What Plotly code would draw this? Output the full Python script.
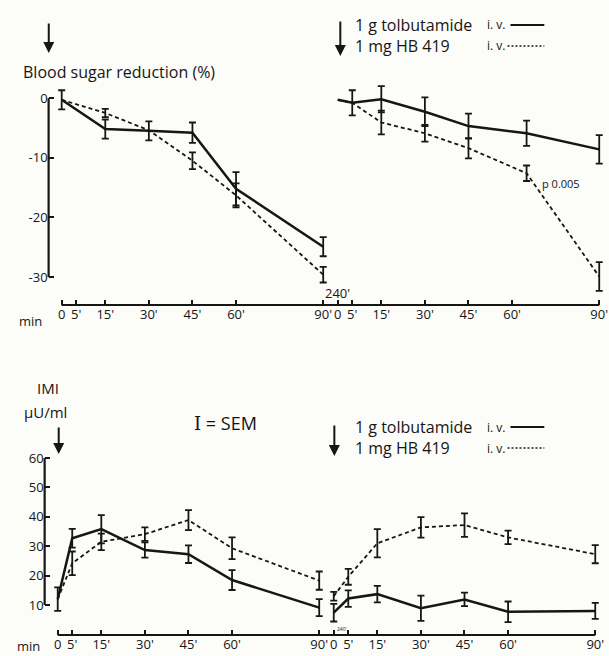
import plotly.graph_objects as go

# ---------------- data ----------------
GAP = 95  # second (240') experiment is drawn after the first, shifted by 95 min
tick_vals_left = [0, 5, 15, 30, 45, 60, 90]
tick_text = ["0", "5'", "15'", "30'", "45'", "60'", "90'", "0", "5'", "15'", "30'", "45'", "60'", "90'"]

# Blood sugar reduction (%)
bs_t_left = [0, 15, 30, 45, 60, 90]
bs_tol_left = [-0.3, -5.2, -5.5, -5.8, -15.2, -24.9]
bs_tol_left_err = [1.6, 1.6, 1.6, 1.7, 2.8, 1.6]
bs_hb_left = [-0.3, -2.5, -5.4, -10.5, -16.3, -29.6]
bs_hb_left_err = [0, 0.7, 0, 1.4, 2.0, 1.3]

bs_t_right = [0, 5, 15, 30, 45, 65, 90]
bs_tol_right = [-0.3, -0.8, -0.2, -2.3, -4.7, -5.9, -8.6]
bs_tol_right_err = [0, 2.1, 2.2, 2.4, 2.1, 2.1, 2.4]
bs_hb_right = [-0.3, -0.8, -4.1, -5.9, -8.4, -12.6, -29.9]
bs_hb_right_err = [0, 0, 2.0, 1.4, 1.7, 1.3, 2.4]

bs_yticks = [0, -10, -20, -30]

# IMI (µU/ml)
imi_t_left = [0, 5, 15, 30, 45, 60, 90]
imi_tol_left = [12, 32.7, 35.8, 28.7, 27.3, 18.5, 9.1]
imi_tol_left_err = [4, 3.2, 4.8, 2.6, 3.0, 3.4, 2.9]
imi_hb_left = [12, 24.2, 31.5, 34.1, 38.9, 29.3, 18.3]
imi_hb_left_err = [0, 4.0, 2.8, 2.3, 3.4, 3.7, 3.1]

imi_t_right = [0, 5, 15, 30, 45, 60, 90]
imi_tol_right = [7.4, 12.2, 13.7, 8.9, 11.9, 7.7, 8.0]
imi_tol_right_err = [3.0, 2.8, 2.8, 4.3, 2.3, 3.5, 2.7]
imi_hb_right = [13.0, 19.6, 31.0, 36.4, 37.2, 33.0, 27.3]
imi_hb_right_err = [1.5, 2.7, 4.8, 3.5, 4.0, 2.3, 3.1]

imi_yticks = [10, 20, 30, 40, 50, 60]

# ---------------- styling ----------------
INK = "#161616"
BG = "#fcfcf8"
FONT = "Open Sans"
W, H = 609, 656

fig = go.Figure()


def series(t, v, err, offset, dashed, xa, ya):
    xs = [ti + offset for ti in t]
    fig.add_trace(go.Scatter(
        x=xs, y=v, mode="lines", xaxis=xa, yaxis=ya, showlegend=False,
        line=dict(color=INK, width=1.8 if dashed else 2.5,
                  dash="4px,3px" if dashed else "solid"),
        hoverinfo="skip"))
    ex = [x for x, e in zip(xs, err) if e > 0]
    ey = [y for y, e in zip(v, err) if e > 0]
    ee = [e for e in err if e > 0]
    fig.add_trace(go.Scatter(
        x=ex, y=ey, mode="markers", xaxis=xa, yaxis=ya, showlegend=False,
        marker=dict(size=1, color="rgba(0,0,0,0)"),
        error_y=dict(type="data", array=ee, visible=True, color=INK,
                     thickness=1.8, width=3.5),
        hoverinfo="skip"))


series(bs_t_left, bs_tol_left, bs_tol_left_err, 0, False, "x", "y")
series(bs_t_left, bs_hb_left, bs_hb_left_err, 0, True, "x", "y")
series(bs_t_right, bs_tol_right, bs_tol_right_err, GAP, False, "x", "y")
series(bs_t_right, bs_hb_right, bs_hb_right_err, GAP, True, "x", "y")

series(imi_t_left, imi_tol_left, imi_tol_left_err, 0, False, "x2", "y2")
series(imi_t_left, imi_hb_left, imi_hb_left_err, 0, True, "x2", "y2")
series(imi_t_right, imi_tol_right, imi_tol_right_err, GAP, False, "x2", "y2")
series(imi_t_right, imi_hb_right, imi_hb_right_err, GAP, True, "x2", "y2")

# ---------------- axes ----------------
K = 2.92  # px per minute
XR = [-4.5, 187]
all_ticks = tick_vals_left + [t + GAP for t in tick_vals_left]


def px_dom(x0px):
    return [(x0px + XR[0] * K) / W, (x0px + XR[1] * K) / W]


def ydom(top_px, bot_px):
    return [1 - bot_px / H, 1 - top_px / H]


xcommon = dict(range=XR, tickmode="array", tickvals=all_ticks, ticktext=tick_text,
               tickangle=0, ticks="inside", ticklen=5, tickwidth=1.6, tickcolor=INK,
               showline=False, showgrid=False, zeroline=False,
               tickfont=dict(family=FONT, size=13, color=INK))
ycommon = dict(tickmode="array", ticks="inside", ticklen=5, tickwidth=1.8,
               tickcolor=INK, showline=False, showgrid=False, zeroline=False,
               tickfont=dict(family=FONT, size=13, color=INK))

fig.update_layout(
    xaxis=dict(domain=px_dom(62), anchor="y", **xcommon),
    yaxis=dict(domain=ydom(65.2, 305), range=[-34.67, 5.5], anchor="x",
               tickvals=bs_yticks, ticktext=[str(v) for v in bs_yticks], **ycommon),
    xaxis2=dict(domain=px_dom(58), anchor="y2", **xcommon),
    yaxis2=dict(domain=ydom(440.4, 635), range=[-0.2, 66], anchor="x2",
                tickvals=imi_yticks, ticktext=[str(v) for v in imi_yticks], **ycommon),
)

shapes = []
# axis lines
for xa, ya, ylo, yhi in [("x", "y", bs_yticks[-1], bs_yticks[0]),
                         ("x2", "y2", imi_yticks[0], imi_yticks[-1])]:
    shapes.append(dict(type="line", xref=xa, yref=ya + " domain",
                       x0=0, x1=GAP + tick_vals_left[-1], y0=0, y1=0,
                       line=dict(color=INK, width=2)))
    shapes.append(dict(type="line", xref=xa + " domain", yref=ya,
                       x0=0, x1=0, y0=ylo, y1=yhi,
                       line=dict(color=INK, width=2.2)))

# legend line samples (paper coordinates)
for y_px in (25, 427):
    shapes.append(dict(type="line", xref="paper", yref="paper",
                       x0=513 / W, x1=547 / W, y0=1 - y_px / H, y1=1 - y_px / H,
                       line=dict(color=INK, width=2.2)))
    shapes.append(dict(type="line", xref="paper", yref="paper",
                       x0=510 / W, x1=547 / W, y0=1 - (y_px + 21) / H, y1=1 - (y_px + 21) / H,
                       line=dict(color=INK, width=1.4, dash="2px,2px")))

annos = []


def txt(text, x, y, size=14, xanchor="left", **kw):
    annos.append(dict(text=text, x=x / W, y=1 - y / H, xref="paper", yref="paper",
                      showarrow=False, xanchor=xanchor, yanchor="middle",
                      font=dict(family=FONT, size=size, color=INK), **kw))


def arrow(x, y_tip, y_tail):
    annos.append(dict(text="", x=x / W, y=1 - y_tip / H, xref="paper", yref="paper",
                      showarrow=True, ax=0, ay=-(y_tip - y_tail), arrowhead=2,
                      arrowsize=1.1, arrowwidth=2, arrowcolor=INK))


# top panel labels
arrow(49, 53, 22)
txt("Blood sugar reduction (%)", 21, 72, size=16)
arrow(342, 56, 20)
txt("1 g tolbutamide", 355, 25, size=16)
txt("i. v.", 487, 25, size=12)
txt("1 mg HB 419", 355, 46, size=16)
txt("i. v.", 487, 46, size=12)
txt("p 0.005", 543, 183, size=11)
txt("240'", 325, 293, size=13)
txt("min", 17, 321, size=13)

# bottom panel labels
txt("IMI", 48, 388, size=15, xanchor="center")
txt("µU/ml", 46, 412, size=15, xanchor="center")
arrow(59, 454, 426)
txt("<span style='font-family:DejaVu Serif'>I</span> = SEM", 193, 423, size=18)
arrow(336, 456, 424)
txt("1 g tolbutamide", 355, 427, size=16)
txt("i. v.", 487, 427, size=12)
txt("1 mg HB 419", 355, 448, size=16)
txt("i. v.", 487, 448, size=12)
txt("240'", 337, 629, size=5)
txt("min", 15, 646, size=13)

fig.update_layout(
    width=W, height=H, margin=dict(l=0, r=0, t=0, b=0),
    paper_bgcolor=BG, plot_bgcolor=BG, showlegend=False,
    shapes=shapes, annotations=annos,
)

fig.write_html("out.html")
